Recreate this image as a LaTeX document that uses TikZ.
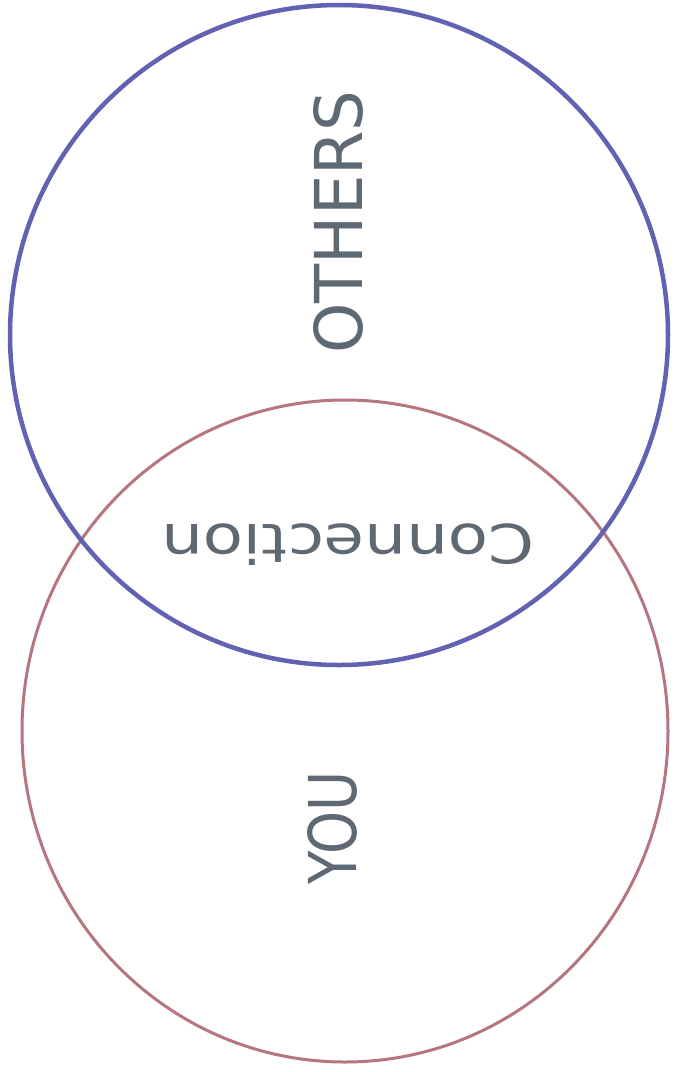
\documentclass[tikz,border=0pt]{standalone}
\usepackage{fontspec}
\setmainfont{DejaVu Sans}
\definecolor{otherblue}{RGB}{98,98,178}
\definecolor{youred}{RGB}{182,118,128}
\definecolor{labelgray}{RGB}{95,105,115}
\begin{document}
\begin{tikzpicture}[x=1pt,y=-1pt,
  label/.style={text=labelgray, inner sep=0pt}]
\useasboundingbox (0,0) rectangle (684,1072);
\fill[white] (0,0) rectangle (684,1072);
% YOU circle (behind)
\draw[youred, line width=3pt] (345,731) ellipse [x radius=323, y radius=331];
% OTHERS circle
\draw[otherblue, line width=4.5pt] (339,335) ellipse [x radius=329, y radius=330];
% labels
\node[label, rotate=90] (others) at (338,222)
  {\fontsize{66}{70}\selectfont\scalebox{0.97}[1]{OTHERS}};
\node[label, rotate=180] (conn) at (348,545)
  {\fontsize{54}{60}\selectfont\scalebox{1.22}[1]{Connection}};
\node[label, rotate=90] (you) at (332,828)
  {\fontsize{66}{70}\selectfont\scalebox{0.83}[1]{YOU}};
\end{tikzpicture}
\end{document}
